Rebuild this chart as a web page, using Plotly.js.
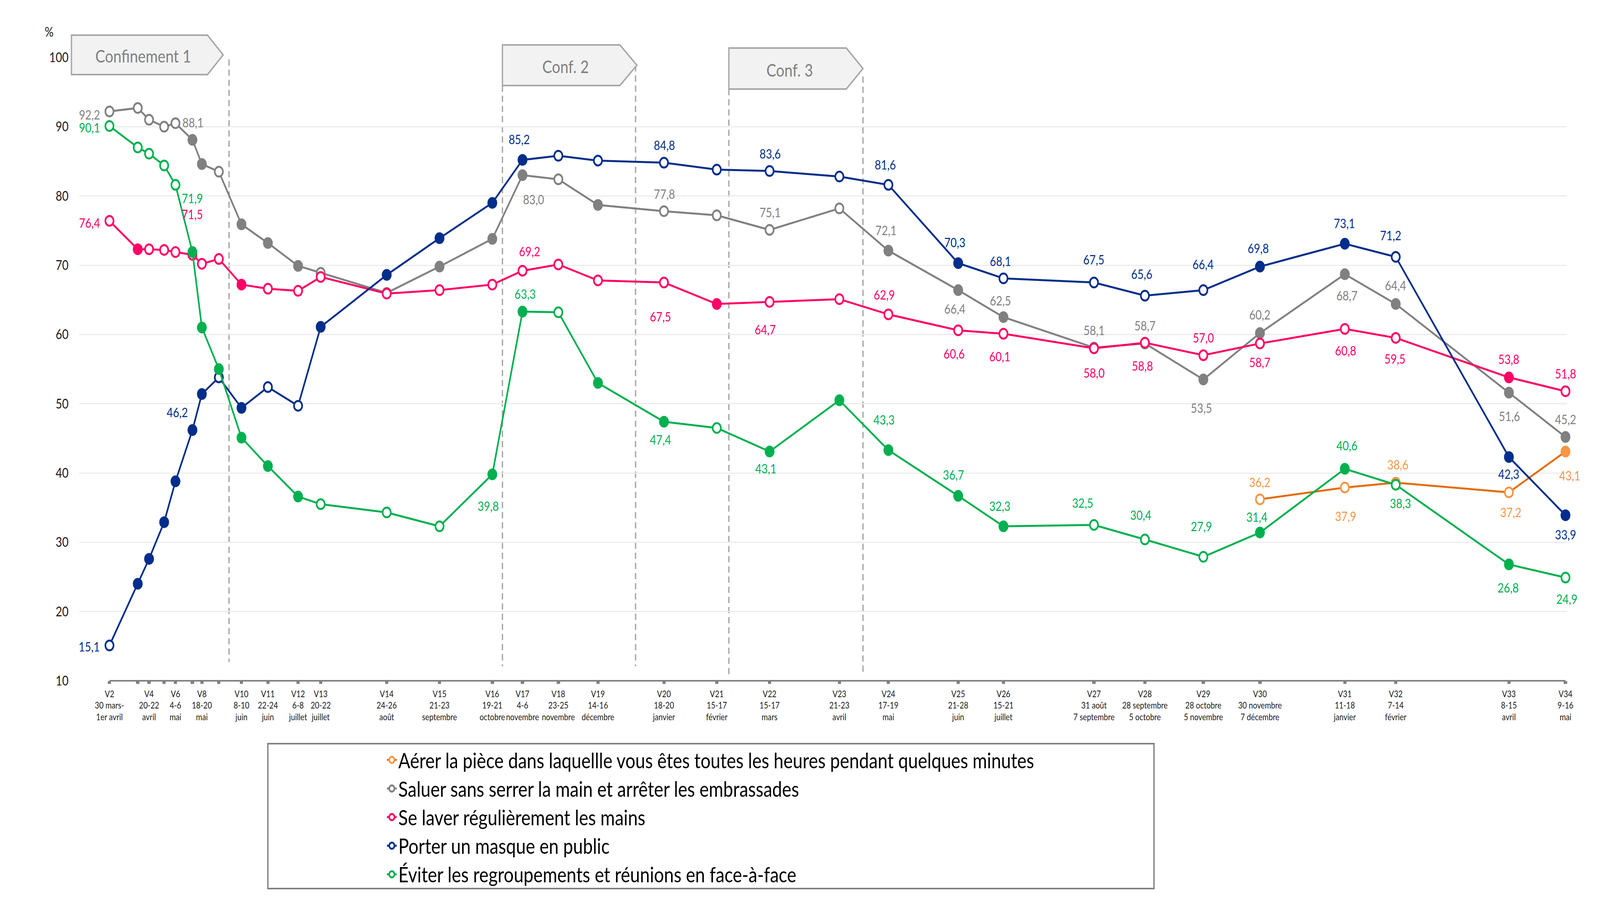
<!DOCTYPE html>
<html><head><meta charset="utf-8">
<script src="https://cdn.plot.ly/plotly-3.0.1.min.js"></script>
<style>html,body{margin:0;padding:0;background:#fff;overflow:hidden;width:100%;height:100%}
#wrap{position:absolute;left:0;top:0;width:4904px;height:2335px;transform-origin:0 0}</style>
</head><body>
<div id="wrap"><div id="chart" style="width:4904px;height:2335px"></div></div>
<script>
// ---------- DATA ----------
const waves = ['V2','V3','V4','V5','V6','V7','V8','V9','V10','V11','V12','V13','V14','V15','V16','V17','V18','V19','V20','V21','V22','V23','V24','V25','V26','V27','V28','V29','V30','V31','V32','V33','V34'];
const waveDates = ['2020-03-31','2020-04-15','2020-04-21','2020-04-29','2020-05-05','2020-05-14','2020-05-19','2020-05-28','2020-06-09','2020-06-23','2020-07-09','2020-07-21','2020-08-25','2020-09-22','2020-10-20','2020-11-05','2020-11-24','2020-12-15','2021-01-19','2021-02-16','2021-03-16','2021-04-22','2021-05-18','2021-06-24','2021-07-18','2021-09-04','2021-10-01','2021-11-01','2021-12-01','2022-01-15','2022-02-11','2022-04-12','2022-05-12'];
const tickLabels = ['V2<br>30 mars-<br>1er avril','','V4<br>20-22<br>avril','','V6<br>4-6<br>mai','','V8<br>18-20<br>mai','','V10<br>8-10<br>juin','V11<br>22-24<br>juin','V12<br>6-8<br>juillet','V13<br>20-22<br>juillet','V14<br>24-26<br>août','V15<br>21-23<br>septembre','V16<br>19-21<br>octobre','V17<br>4-6<br>novembre','V18<br>23-25<br>novembre','V19<br>14-16<br>décembre','V20<br>18-20<br>janvier','V21<br>15-17<br>février','V22<br>15-17<br>mars','V23<br>21-23<br>avril','V24<br>17-19<br>mai','V25<br>21-28<br>juin','V26<br>15-21<br>juillet','V27<br>31 août<br>7 septembre','V28<br>28 septembre<br>5 octobre','V29<br>28 octobre<br>5 novembre','V30<br>30 novembre<br>7 décembre','V31<br>11-18<br>janvier','V32<br>7-14<br>février','V33<br>8-15<br>avril','V34<br>9-16<br>mai'];

const aerer  = [null,null,null,null,null,null,null,null,null,null,null,null,null,null,null,null,null,null,null,null,null,null,null,null,null,null,null,null,36.2,37.9,38.6,37.2,43.1];
const saluer = [92.2,92.7,91.0,90.0,90.5,88.1,84.6,83.5,75.9,73.2,69.9,68.9,66.0,69.8,73.8,83.0,82.4,78.7,77.8,77.2,75.1,78.2,72.1,66.4,62.5,58.1,58.7,53.5,60.2,68.7,64.4,51.6,45.2];
const laver  = [76.4,72.3,72.3,72.2,71.9,71.5,70.2,70.9,67.2,66.6,66.3,68.3,65.9,66.4,67.2,69.2,70.1,67.8,67.5,64.4,64.7,65.1,62.9,60.6,60.1,58.0,58.8,57.0,58.7,60.8,59.5,53.8,51.8];
const masque = [15.1,24.0,27.6,32.9,38.8,46.2,51.4,53.8,49.4,52.4,49.7,61.1,68.6,73.9,79.0,85.2,85.8,85.1,84.8,83.8,83.6,82.8,81.6,70.3,68.1,67.5,65.6,66.4,69.8,73.1,71.2,42.3,33.9];
const eviter = [90.1,87.0,86.1,84.4,81.6,71.9,61.0,55.0,45.1,41.0,36.6,35.5,34.3,32.3,39.8,63.3,63.2,53.0,47.4,46.5,43.1,50.5,43.3,36.7,32.3,32.5,30.4,27.9,31.4,40.6,38.3,26.8,24.9];

// significant change flags (filled marker = 1, open marker = 0)
const aererSig  = [0,0,0,0,0,0,0,0,0,0,0,0,0,0,0,0,0,0,0,0,0,0,0,0,0,0,0,0,0,0,1,0,1];
const saluerSig = [0,0,0,0,0,1,1,0,1,1,1,0,0,1,1,1,0,1,0,0,0,0,1,1,1,1,0,1,1,1,1,1,1];
const laverSig  = [0,1,0,0,0,0,0,0,1,0,0,0,0,0,0,0,0,0,0,1,0,0,0,0,0,0,0,0,0,0,0,1,0];
const masqueSig = [0,1,1,1,1,1,1,0,1,0,0,1,1,1,1,1,0,0,0,0,0,0,0,1,0,0,0,0,1,1,0,1,1];
const eviterSig = [0,0,0,0,0,1,1,1,1,1,1,0,0,0,1,1,0,1,1,0,1,1,1,1,1,0,0,0,1,1,0,1,0];

// ---------- STYLE ----------
const FULLW = 4904, FULLH = 2335;
// fit the 4904x2335 design into the actual viewport (the browser may cap the width)
const sx = (window.innerWidth / FULLW) || 1;
const sy = (window.innerHeight / FULLH) || 1;
document.getElementById('wrap').style.transform = 'scale(' + Math.min(sx, 1) + ',' + Math.min(sy, 1) + ')';

const FONT = 'Lato, "Open Sans", sans-serif';
const L = 243, R = 4804, T = 147, B = 1743, W = R - L, H = B - T;
const px = x => (x - L) / W;
const py = y => (B - y) / H;

// label placement: [wave, xshift px, yshift px]
const labelSpec = {
  saluer: [['V2',-61,-8],['V7',2,45],['V17',34,-62],['V20',1,45],['V22',2,46],['V24',-7,53],['V25',-10,-47],['V26',-9,43],['V27',0,45],['V28',0,46],['V29',-6,-72],['V30',0,48],['V31',7,-54],['V32',0,48],['V33',2,-60],['V34',0,46]],
  laver: [['V2',-61,-4],['V7',0,104],['V17',22,50],['V20',-11,-87],['V22',-13,-70],['V24',-12,51],['V25',-12,-59],['V26',-11,-57],['V27',0,-62],['V28',-8,-58],['V29',0,46],['V30',0,-48],['V31',3,-55],['V32',-2,-53],['V33',0,47],['V34',0,46]],
  masque: [['V2',-62,-2],['V7',-46,46],['V17',-10,53],['V20',1,46],['V22',2,45],['V24',-9,52],['V25',-10,54],['V26',-9,45],['V27',-1,59],['V28',-10,56],['V29',-1,67],['V30',-5,48],['V31',-1,53],['V32',-15,56],['V33',0,-43],['V34',0,-49]],
  eviter: [['V2',-61,-3],['V7',0,138],['V16',-12,-80],['V17',8,46],['V20',-11,-45],['V22',-11,-43],['V24',-13,78],['V25',-14,55],['V26',-11,53],['V27',-35,57],['V28',-13,63],['V29',-6,79],['V30',-9,41],['V31',7,60],['V32',15,-47],['V33',-2,-59],['V34',4,-54]],
  aerer: [['V30',0,44],['V31',3,-73],['V32',7,47],['V33',6,-50],['V34',13,-61]]
};

const series = [
  {key:'aerer',  name:'Aérer la pièce dans laquellle vous êtes toutes les heures pendant quelques minutes', y:aerer, sig:aererSig, line:'#E46C0A', mk:'#F79646', lab:'#F79646'},
  {key:'saluer', name:'Saluer sans serrer la main et arrêter les embrassades', y:saluer, sig:saluerSig, line:'#808080', mk:'#808080', lab:'#808080'},
  {key:'laver',  name:'Se laver régulièrement les mains', y:laver, sig:laverSig, line:'#FF0066', mk:'#FF0066', lab:'#FF0066'},
  {key:'masque', name:'Porter un masque en public', y:masque, sig:masqueSig, line:'#002E8A', mk:'#002E8A', lab:'#002E8A'},
  {key:'eviter', name:'Éviter les regroupements et réunions en face-à-face', y:eviter, sig:eviterSig, line:'#00B050', mk:'#00B050', lab:'#00B050'}
];

const traces = series.map((s, k) => ({
  type: 'scatter', mode: 'lines+markers', name: s.name,
  legendgroup: 'g' + k,
  x: waveDates, y: s.y,
  connectgaps: false,
  line: {color: s.line, width: 5},
  marker: {
    symbol: 'circle', size: 25,
    color: s.sig.map((f, i) => (f && s.y[i] !== null) ? s.mk : '#ffffff'),
    line: {color: s.mk, width: 5}
  },
  cliponaxis: false,
  hoverinfo: 'skip'
}));

const annotations = [];
series.forEach(s => {
  labelSpec[s.key].forEach(([w, dx, dy]) => {
    const i = waves.indexOf(w);
    annotations.push({
      xref: 'x', yref: 'y', x: waveDates[i], y: s.y[i],
      text: s.y[i].toFixed(1).replace('.', ','),
      showarrow: false, xshift: dx, yshift: dy,
      xanchor: 'center', yanchor: 'middle',
      font: {family: FONT, size: 33, color: s.lab}
    });
  });
});

annotations.push({xref:'paper', yref:'paper', x:px(150), y:py(80), text:'%', showarrow:false,
  xanchor:'center', yanchor:'middle', font:{family:FONT, size:34, color:'#1a1a1a'}});

const confBoxes = [
  {x0:219, x1:636, tip:684, top:90, bot:191, label:'Confinement 1', tx:439, ty:143},
  {x0:1540, x1:1900, tip:1952, top:115, bot:219, label:'Conf. 2', tx:1733, ty:170},
  {x0:2234, x1:2594, tip:2645, top:123, bot:228, label:'Conf. 3', tx:2420, ty:179}
];
const dashLines = [
  {x:702, y0:152, y1:1695}, {x:1540, y0:219, y1:1706}, {x:1948, y0:167, y1:1706},
  {x:2234, y0:228, y1:1727}, {x:2645, y0:196, y1:1723}
];

const shapes = [];
dashLines.forEach(d => shapes.push({
  type:'line', xref:'paper', yref:'paper', layer:'below',
  x0:px(d.x), x1:px(d.x), y0:py(d.y0), y1:py(d.y1),
  line:{color:'#A6A6A6', width:4, dash:'16px,10px'}
}));
confBoxes.forEach(b => {
  const mid = (b.top + b.bot) / 2;
  const path = `M ${px(b.x0)},${py(b.top)} L ${px(b.x1)},${py(b.top)} L ${px(b.tip)},${py(mid)} L ${px(b.x1)},${py(b.bot)} L ${px(b.x0)},${py(b.bot)} Z`;
  shapes.push({type:'path', xref:'paper', yref:'paper', layer:'above', path,
    fillcolor:'#F2F2F2', line:{color:'#A6A6A6', width:4}});
  annotations.push({xref:'paper', yref:'paper', x:px(b.tx), y:py(b.ty), text:b.label, showarrow:false,
    xanchor:'center', yanchor:'middle', font:{family:FONT, size:45, color:'#7F7F7F'}});
});
shapes.push({type:'line', xref:'x', yref:'paper', layer:'above',
  x0:waveDates[0], x1:waveDates[waveDates.length-1], y0:0, y1:0,
  line:{color:'#808080', width:4}});
shapes.push({type:'rect', xref:'paper', yref:'paper', layer:'above',
  x0:px(821), x1:px(3537), y0:py(1904), y1:py(2275),
  line:{color:'#7F7F7F', width:4}, fillcolor:'rgba(0,0,0,0)'});

const layout = {
  width: FULLW, height: FULLH,
  margin: {l: L, r: FULLW - R, t: T, b: FULLH - B, autoexpand: false},
  paper_bgcolor: '#ffffff', plot_bgcolor: 'rgba(0,0,0,0)',
  showlegend: true,
  legend: {
    x: px(1181), y: py(1904), xanchor: 'left', yanchor: 'top',
    orientation: 'v', traceorder: 'grouped', tracegroupgap: 0,
    bgcolor: 'rgba(0,0,0,0)', borderwidth: 0,
    font: {family: FONT, size: 54, color: '#000000'}
  },
  xaxis: {
    type: 'date', range: ['2020-03-15', '2022-05-13'],
    tickmode: 'array', tickvals: waveDates, ticktext: tickLabels,
    showgrid: false, zeroline: false, showline: false,
    ticks: 'outside', ticklen: 7, tickwidth: 10, tickcolor: '#808080',
    tickangle: 0, ticklabelstandoff: 6,
    tickfont: {family: FONT, size: 23, color: '#1a1a1a'}
  },
  yaxis: {
    range: [10, 100], dtick: 10, tick0: 10,
    showgrid: true, gridcolor: '#ECECEC', gridwidth: 3,
    zeroline: false, showline: false, ticks: '',
    ticklabelstandoff: 32,
    tickfont: {family: FONT, size: 34, color: '#1a1a1a'}
  },
  shapes, annotations,
  hovermode: false
};

Plotly.newPlot('chart', traces, layout, {displayModeBar: false, staticPlot: true});
</script>
</body></html>
